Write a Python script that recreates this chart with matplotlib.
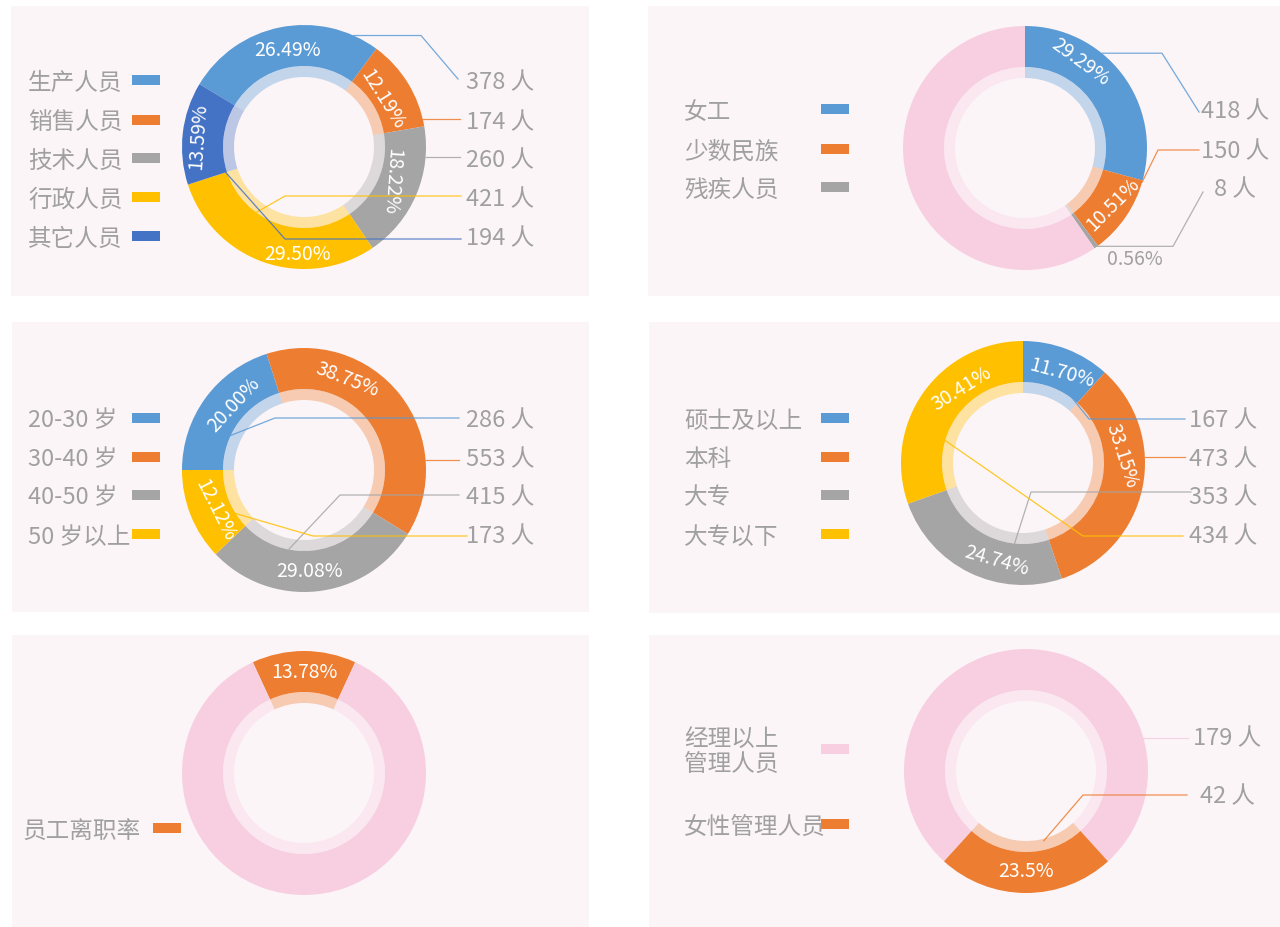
import numpy as np
import matplotlib
matplotlib.use("Agg")
import matplotlib.pyplot as plt
from matplotlib.patches import Wedge, Rectangle

plt.rcParams['font.family'] = ['Noto Sans CJK SC', 'DejaVu Sans']
plt.rcParams['font.weight'] = 'light'

# ---- data ----
staff_labels = ['生产人员', '销售人员', '技术人员', '行政人员', '其它人员']
staff_counts = [378, 174, 260, 421, 194]
staff_pct = ['26.49%', '12.19%', '18.22%', '29.50%', '13.59%']

total_staff = 1427
group_labels = ['女工', '少数民族', '残疾人员']
group_counts = [418, 150, 8]
group_pct = ['29.29%', '10.51%', '0.56%']

age_labels = ['20-30 岁', '30-40 岁', '40-50 岁', '50 岁以上']
age_counts = [286, 553, 415, 173]
age_pct = ['20.00%', '38.75%', '29.08%', '12.12%']

edu_labels = ['硕士及以上', '本科', '大专', '大专以下']
edu_counts = [167, 473, 353, 434]
edu_pct = ['11.70%', '33.15%', '24.74%', '30.41%']

turnover_label = '员工离职率'
turnover_rate = 13.78

mgr_labels = ['经理以上\n管理人员', '女性管理人员']
mgr_counts = [179, 42]
mgr_pct = '23.5%'

# ---- colours ----
BLUE, ORANGE, GREY, YELLOW, DBLUE = '#5B9BD5', '#ED7D31', '#A5A5A5', '#FFC000', '#4472C4'
PINK = '#F7CFE1'
BG = '#FCF5F8'
TXT = '#A0A0A0'

R, R1, R2 = 122, 81, 70   # outer ring, inner edge of ring, inner edge of light ring

fig = plt.figure(figsize=(12.8, 9.28), dpi=100)
ax = fig.add_axes([0, 0, 1, 1])
ax.set_xlim(0, 1280)
ax.set_ylim(928, 0)
ax.axis('off')


def pt(cx, cy, ang, r):
    return cx + r * np.cos(np.radians(ang)), cy - r * np.sin(np.radians(ang))


def donut(cx, cy, sizes, colors, start):
    total = float(sum(sizes))
    spans = []
    a = start
    for s, c in zip(sizes, colors):
        a1 = a - s / total * 360
        ax.add_patch(Wedge((cx, cy), R, -a, -a1, width=R - R1, color=c, lw=0))
        ax.add_patch(Wedge((cx, cy), R1, -a, -a1, width=R1 - R2, color=c, alpha=0.35, lw=0))
        spans.append((a, a1))
        a = a1
    return spans


def at(span, frac):
    return span[0] + (span[1] - span[0]) * frac


def pct_labels(cx, cy, spans, texts, fracs, radii, rots):
    for sp, t, f, r, rot in zip(spans, texts, fracs, radii, rots):
        x, y = pt(cx, cy, at(sp, f), r)
        ax.text(x, y, t, color='white', fontsize=14, ha='center', va='center',
                rotation=rot, rotation_mode='anchor')


def leader(cx, cy, span, frac, r, color, mode, elbow_x, end_x, end_y):
    x0, y0 = pt(cx, cy, at(span, frac), r * R)
    if mode == 'h':
        xs, ys = [x0, elbow_x, end_x], [y0, y0, end_y]
    elif mode == 'd':
        xs, ys = [x0, elbow_x, end_x], [y0, end_y, end_y]
    else:
        xs, ys = [x0, end_x], [y0, y0]
    ax.plot(xs, ys, color=color, lw=0.9, alpha=0.85)
    return x0, y0


def legend(x_txt, x_box, ys, labels, colors):
    for y, t, c in zip(ys, labels, colors):
        ax.text(x_txt, y + 3, t, color=TXT, fontsize=17, ha='left', va='center', linespacing=1.1)
        ax.add_patch(Rectangle((x_box, y - 4), 28, 10, color=c, lw=0))


def counts(x, ys, vals):
    for y, v in zip(ys, vals):
        ax.text(x, y + 3, f'{v} 人', color=TXT, fontsize=17, ha='center', va='center')


# panel backgrounds
for x0, y0, x1, y1 in [(11, 7, 589, 297), (648, 7, 1280, 297), (12, 323, 589, 613),
                       (649, 323, 1280, 614), (12, 636, 589, 928), (649, 636, 1280, 928)]:
    ax.add_patch(Rectangle((x0, y0), x1 - x0, y1 - y0, color=BG, lw=0))

# ---- panel 1: staff type ----
cx, cy = 304, 148
c1 = [BLUE, ORANGE, GREY, YELLOW, DBLUE]
sp = donut(cx, cy, staff_counts, c1, 149)
pct_labels(cx, cy, sp, staff_pct, [0.52, 0.5, 0.47, 0.356, 0.49],
           [99, 92, 94, 107, 107], [0, -58, -94, 0, 86])
ly = [80, 120, 158, 197, 236]
leader(cx, cy, sp[0], 0.87, 1.0, BLUE, 'h', 421, 458, ly[0])
leader(cx, cy, sp[1], 0.92, 1.0, ORANGE, None, 0, 460, 0)
leader(cx, cy, sp[2], 0.22, 1.0, GREY, None, 0, 460, 0)
leader(cx, cy, sp[3], 0.66, 0.66, YELLOW, 'd', 285, 461, ly[3])
leader(cx, cy, sp[4], 0.02, 0.68, DBLUE, 'd', 285, 461, ly[4] + 4)
legend(28, 132, ly, staff_labels, c1)
counts(500, ly, staff_counts)

# ---- panel 2: special groups ----
cx, cy = 1025, 149
c2 = [BLUE, ORANGE, GREY, PINK]
sp = donut(cx, cy, group_counts + [total_staff - sum(group_counts)], c2, 90)
pct_labels(cx, cy, sp[:2], group_pct[:2], [0.31, 0.45], [103, 104], [-36, 45])
ly = [109, 149, 187]
leader(cx, cy, sp[0], 0.37, 1.0, BLUE, 'h', 1162, 1199, 113)
leader(cx, cy, sp[1], 0.02, 1.0, ORANGE, 'd', 1158, 1199, 151)
gx, gy = leader(cx, cy, sp[2], 0.2, 1.0, GREY, 'h', 1173, 1203, 193)
ax.text((gx + 1173) / 2, gy + 12, group_pct[2], color=TXT, fontsize=14, ha='center', va='center')
legend(684, 821, ly, group_labels, c2[:3])
counts(1235, ly, group_counts)

# ---- panel 3: age ----
cx, cy = 304, 471
c3 = [BLUE, ORANGE, GREY, YELLOW]
sp = donut(cx, cy, age_counts, c3, 180)
pct_labels(cx, cy, sp, age_pct, [0.6, 0.31, 0.53, 0.46], [96, 101, 101, 97], [47, -21, 0, -63])
ly = [418, 457, 495, 534]
leader(cx, cy, sp[0], 0.34, 0.672, BLUE, 'd', 275, 459, 419)
leader(cx, cy, sp[1], 0.74, 1.0, ORANGE, None, 0, 459, 0)
leader(cx, cy, sp[2], 0.66, 0.66, GREY, 'd', 340, 459, 496)
leader(cx, cy, sp[3], 0.29, 0.68, YELLOW, 'd', 313, 467, 537)
legend(28, 132, ly, age_labels, c3)
counts(500, ly, age_counts)

# ---- panel 4: education ----
cx, cy = 1023, 464
c4 = [BLUE, ORANGE, GREY, YELLOW]
sp = donut(cx, cy, edu_counts, c4, 90)
pct_labels(cx, cy, sp, edu_pct, [0.55, 0.36, 0.38, 0.64], [99, 99, 100, 97], [-15, -72, -16, 32])
ly = [418, 457, 495, 534]
leader(cx, cy, sp[0], 0.83, 0.675, BLUE, 'd', 1089, 1185, 420)
leader(cx, cy, sp[1], 0.376, 1.0, ORANGE, None, 0, 1185, 0)
leader(cx, cy, sp[2], 0.276, 0.667, GREY, 'd', 1031, 1191, 493)
leader(cx, cy, sp[3], 0.326, 0.667, YELLOW, 'd', 1083, 1183, 537)
legend(684, 821, ly, edu_labels, c4)
counts(1223, ly, edu_counts)

# ---- panel 5: turnover ----
cx, cy = 304, 774
sp = donut(cx, cy, [turnover_rate, 100 - turnover_rate], [ORANGE, PINK],
           90 + turnover_rate * 3.6 / 2)
pct_labels(cx, cy, sp[:1], [f'{turnover_rate:.2f}%'], [0.5], [101], [0])
legend(22, 153, [828], [turnover_label], [ORANGE])

# ---- panel 6: managers ----
cx, cy = 1026, 772
share = mgr_counts[1] / mgr_counts[0]
sp = donut(cx, cy, [1 - share, share], [PINK, ORANGE], 90 + (1 - share) * 180)
pct_labels(cx, cy, sp[1:], [mgr_pct], [0.5], [100], [0])
leader(cx, cy, sp[0], 0.769, 1.0, PINK, None, 0, 1188, 0)
leader(cx, cy, sp[1], 0.33, 0.59, ORANGE, 'd', 1083, 1187, 796)
legend(684, 821, [749, 824], mgr_labels, [PINK, ORANGE])
counts(1227, [736, 794], mgr_counts)

fig.savefig('out.png', dpi=100, facecolor='white')
